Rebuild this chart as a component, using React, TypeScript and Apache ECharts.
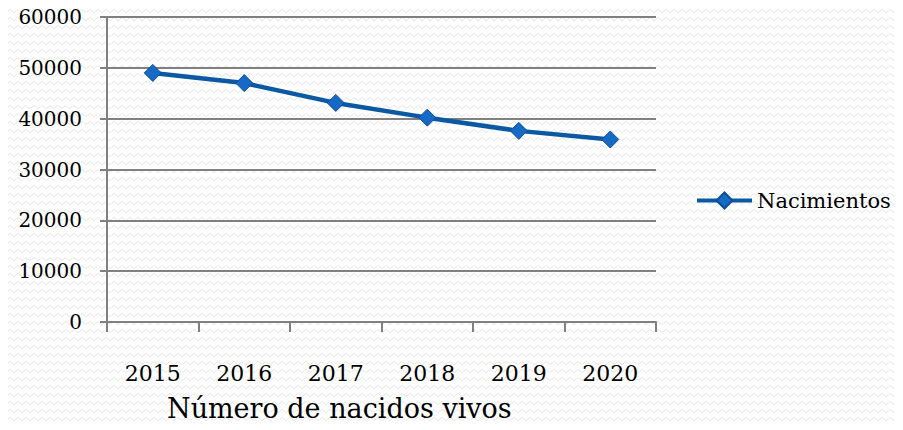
import React, { useEffect, useRef } from "react";
import * as echarts from "echarts";

const years = ["2015", "2016", "2017", "2018", "2019", "2020"];
const births = [49000, 47000, 43100, 40200, 37600, 35900];
const seriesName = "Nacimientos";
const axisTitle = "Número de nacidos vivos";

function makePattern(): HTMLCanvasElement {
  const c = document.createElement("canvas");
  c.width = 8;
  c.height = 8;
  const ctx = c.getContext("2d")!;
  ctx.fillStyle = "#ffffff";
  ctx.fillRect(0, 0, 8, 8);
  ctx.strokeStyle = "#e6e6e6";
  ctx.lineWidth = 1;
  ctx.beginPath();
  ctx.moveTo(0, 3);
  ctx.lineTo(2, 1.5);
  ctx.lineTo(4, 3);
  ctx.lineTo(6, 4.5);
  ctx.lineTo(8, 3);
  ctx.stroke();
  return c;
}

export default function App() {
  const ref = useRef<HTMLDivElement>(null);
  useEffect(() => {
    if (!ref.current) return;
    const chart = echarts.init(ref.current, undefined, { renderer: "svg" });
    const font = "DejaVu Serif";
    chart.setOption({
      animation: false,
      backgroundColor: { image: makePattern(), repeat: "repeat" } as any,
      grid: { left: 107, right: 247, top: 17, bottom: 108 },
      legend: {
        data: [seriesName],
        left: 695,
        top: 190,
        padding: 0,
        itemWidth: 55,
        itemHeight: 20,
        itemGap: 4,
        lineStyle: { width: 4 },
        textStyle: { fontFamily: font, fontSize: 21, color: "#000" },
      },
      graphic: [
        {
          type: "text",
          left: 167,
          top: 395,
          style: { text: axisTitle, fontFamily: font, fontSize: 27, fill: "#000" },
        },
      ],
      xAxis: {
        type: "category",
        data: years,
        boundaryGap: true,
        axisLine: { lineStyle: { color: "#808080", width: 2 } },
        axisTick: { show: true, alignWithLabel: false, length: 10, lineStyle: { color: "#808080", width: 2 } },
        axisLabel: { margin: 40, fontFamily: font, fontSize: 22, color: "#000" },
      },
      yAxis: {
        type: "value",
        min: 0,
        max: 60000,
        interval: 10000,
        axisLine: { show: true, lineStyle: { color: "#808080", width: 2 } },
        axisTick: { show: true, length: 7, lineStyle: { color: "#808080", width: 2 } },
        splitLine: { lineStyle: { color: "#808080", width: 2 } },
        axisLabel: {
          margin: 25,
          fontFamily: font,
          fontSize: 20,
          color: "#000",
          formatter: (v: number) => String(v),
        },
      },
      series: [
        {
          name: seriesName,
          type: "line",
          data: births,
          symbol: "diamond",
          symbolSize: 17,
          lineStyle: { color: "#0b59a3", width: 4.5 },
          itemStyle: { color: "#1769c6", borderColor: "#0b4f96", borderWidth: 1 },
        },
      ],
    });
    return () => chart.dispose();
  }, []);
  return <div ref={ref} style={{ width: 903, height: 430, margin: -8 }} />;
}
